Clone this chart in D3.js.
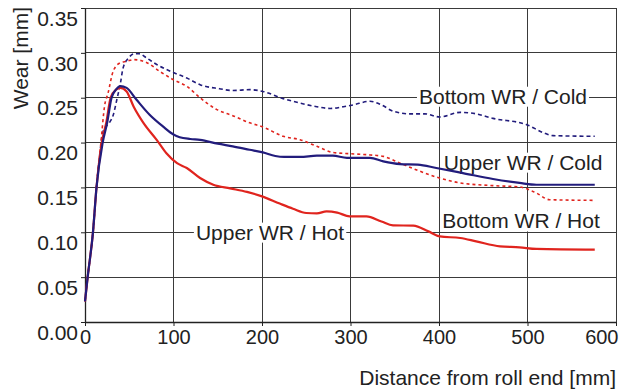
<!DOCTYPE html>
<html>
<head>
<meta charset="utf-8">
<script src="https://cdn.jsdelivr.net/npm/d3@7"></script>
<style>
  html, body { margin: 0; padding: 0; background: #fff; }
  svg { display: block; }
  text { font-family: "Liberation Sans", Arial, sans-serif; fill: #222; }
</style>
</head>
<body>
<svg id="chart" width="629" height="391"></svg>
<script>
// ---- data (distance mm, wear mm) ----
const xTicks = [0, 100, 200, 300, 400, 500, 600];
const yTicks = [0, 0.05, 0.10, 0.15, 0.20, 0.25, 0.30, 0.35];

const upperCold = [[0,.023],[3,.05],[9,.10],[13,.15],[20,.20],[25,.222],[30,.25],[35,.259],[40,.263],[47,.261],[58,.248],[73,.231],[88,.218],[100,.209],[107,.206],[119,.204],[130,.203],[150,.1988],[167,.1958],[186,.192],[201,.189],[215,.185],[225,.184],[243,.184],[262,.1854],[280,.1854],[296,.183],[322,.183],[337,.179],[356,.176],[376,.1754],[397,.1717],[427,.166],[461,.1594],[491,.155],[510,.153],[576,.153]];

const upperHot = [[0,.023],[3,.05],[9,.10],[13,.15],[19,.20],[24,.222],[29,.25],[35,.259],[40,.261],[47,.257],[55,.240],[66,.222],[81,.203],[92,.188],[104,.177],[115,.1717],[130,.1605],[145,.153],[164,.149],[183,.145],[200,.14],[220,.132],[235,.1263],[250,.1215],[262,.121],[273,.1233],[285,.122],[299,.1177],[318,.1177],[335,.112],[348,.1077],[371,.1074],[388,.101],[401,.0954],[424,.0936],[442,.0899],[469,.0843],[491,.0832],[510,.0814],[576,.0806]];

const bottomCold = [[0,.023],[3,.05],[9,.10],[13,.15],[17,.19],[21,.214],[27.5,.222],[32,.231],[36,.248],[40,.266],[43,.283],[49,.294],[56,.299],[61,.299],[70,.294],[81,.287],[100,.278],[115,.272],[130,.2645],[152,.26],[167,.258],[186,.259],[201,.257],[224,.249],[243,.244],[262,.24],[277,.238],[292,.24],[303,.242],[322,.246],[335,.242],[348,.235],[367,.232],[384,.232],[401,.2285],[424,.2337],[442,.232],[461,.227],[499,.22],[518,.211],[529,.2077],[576,.207]];

const bottomHot = [[0,.023],[3,.05],[9,.10],[13,.15],[18,.20],[22,.24],[26,.255],[32,.28],[40,.289],[47,.2905],[55,.2925],[70,.289],[85,.279],[100,.270],[115,.2627],[130,.250],[149,.2367],[167,.23],[186,.222],[201,.2174],[224,.207],[243,.2032],[262,.1958],[280,.189],[299,.1876],[318,.1865],[337,.1846],[356,.177],[376,.169],[397,.1616],[424,.155],[461,.152],[491,.1505],[510,.1438],[525,.1363],[576,.1356]];

const seriesNames = ["Bottom WR / Cold", "Upper WR / Cold", "Bottom WR / Hot", "Upper WR / Hot"];
const labelAt = [[503, .2515], [523, .178], [521, .1125], [270, .1]];

// ---- drawing ----
const svg = d3.select("#chart");
const x = d3.scaleLinear().domain([0, 600]).range([85, 616]);
const y = d3.scaleLinear().domain([0, 0.35]).range([322, 8]);

const navy = "#221c7c", red = "#e0241e";
const grid = svg.append("g").attr("shape-rendering", "crispEdges");
grid.selectAll("line.v").data(xTicks.slice(1)).join("line")
  .attr("x1", d => x(d)).attr("x2", d => x(d)).attr("y1", y(0)).attr("y2", y(0.35))
  .attr("stroke", "#3a3a3a").attr("stroke-width", 1);
grid.selectAll("line.h").data(yTicks.slice(1)).join("line")
  .attr("x1", x(0)).attr("x2", x(600)).attr("y1", d => y(d)).attr("y2", d => y(d))
  .attr("stroke", "#3a3a3a").attr("stroke-width", 1);

// axes
const xa = svg.append("g").attr("transform", `translate(0,${y(0)})`)
  .call(d3.axisBottom(x).tickValues(xTicks).tickSize(4).tickSizeOuter(0).tickFormat(d3.format("d")));
xa.selectAll("text").attr("font-size", 20).attr("y", 8).attr("dy", "0.71em");
xa.selectAll(".tick").filter(d => d === 600).select("text")
  .attr("text-anchor", "end").attr("x", 2);
const ya = svg.append("g").attr("transform", `translate(${x(0)},0)`)
  .call(d3.axisLeft(y).tickValues(yTicks).tickSize(4).tickSizeOuter(0).tickFormat(d3.format(".2f")));
ya.selectAll("text").attr("font-size", 21).attr("x", -7).attr("dy", "0.82em");
svg.selectAll(".domain").attr("stroke", "#222").attr("stroke-width", 1.3);
svg.selectAll(".tick line").attr("stroke", "#222");
svg.selectAll(".tick text").attr("fill", "#222").style("font-family", '"Liberation Sans", Arial, sans-serif');

// label boxes and text
const lg = svg.append("g");
seriesNames.forEach((name, i) => {
  const t = lg.append("text").attr("x", labelAt[i][0]).attr("y", y(labelAt[i][1]))
    .attr("text-anchor", "middle").attr("dy", "0.35em").attr("font-size", 21).text(name);
  const b = t.node().getBBox();
  lg.insert("rect", "text").attr("x", b.x - 2).attr("y", b.y + 2).attr("width", b.width + 4).attr("height", b.height - 3)
    .attr("fill", "#fff");
});

// curves
const line = d3.line().x(d => x(d[0])).y(d => y(d[1])).curve(d3.curveMonotoneX);
svg.append("path").datum(bottomCold).attr("d", line).attr("fill", "none")
  .attr("stroke", navy).attr("stroke-width", 1.6).attr("stroke-dasharray", "4,3");
svg.append("path").datum(bottomHot).attr("d", line).attr("fill", "none")
  .attr("stroke", red).attr("stroke-width", 1.6).attr("stroke-dasharray", "3,3");
svg.append("path").datum(upperHot).attr("d", line).attr("fill", "none")
  .attr("stroke", red).attr("stroke-width", 2.2);
svg.append("path").datum(upperCold).attr("d", line).attr("fill", "none")
  .attr("stroke", navy).attr("stroke-width", 2.2);

// axis titles
svg.append("text").attr("x", 616).attr("y", 385).attr("text-anchor", "end")
  .attr("font-size", 21).text("Distance from roll end [mm]");
svg.append("text").attr("transform", "translate(28,7) rotate(-90)").attr("text-anchor", "end")
  .attr("font-size", 21).text("Wear [mm]");
</script>
</body>
</html>
